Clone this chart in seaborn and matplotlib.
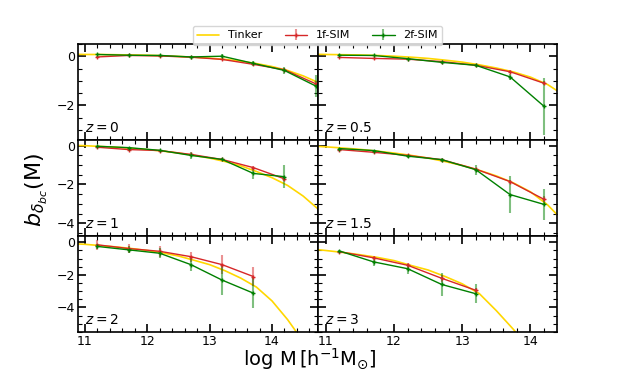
import numpy as np
import seaborn as sns
import matplotlib.pyplot as plt
from matplotlib.ticker import MultipleLocator, AutoMinorLocator

# halo mass bins (log M)
logm = [11.2, 11.7, 12.2, 12.7, 13.2, 13.7, 14.2, 14.7]
redshifts = ['0', '0.5', '1', '1.5', '2', '3']
npts = [8, 7, 7, 7, 6, 5]

# 1f-SIM
b_1f = [
    [-0.03, 0.03, 0.01, -0.04, -0.13, -0.33, -0.55, -1.12],
    [-0.05, -0.09, -0.12, -0.22, -0.37, -0.63, -1.10],
    [-0.08, -0.20, -0.25, -0.45, -0.71, -1.13, -1.71],
    [-0.20, -0.34, -0.50, -0.72, -1.21, -1.85, -2.77],
    [-0.15, -0.38, -0.55, -0.88, -1.37, -2.10],
    [-0.57, -0.95, -1.41, -2.21, -2.95],
]
err_1f = [
    [0.02, 0.02, 0.02, 0.02, 0.03, 0.04, 0.06, 0.10],
    [0.02, 0.02, 0.02, 0.03, 0.03, 0.05, 0.08],
    [0.03, 0.03, 0.03, 0.04, 0.05, 0.08, 0.12],
    [0.03, 0.03, 0.04, 0.05, 0.08, 0.10, 0.15],
    [0.32, 0.30, 0.35, 0.30, 0.57, 0.60],
    [0.05, 0.10, 0.15, 0.20, 0.15],
]
# 2f-SIM
b_2f = [
    [0.07, 0.04, 0.03, -0.03, 0.00, -0.29, -0.58, -1.21],
    [0.04, 0.03, -0.10, -0.25, -0.37, -0.84, -2.04],
    [-0.03, -0.10, -0.24, -0.50, -0.71, -1.43, -1.60],
    [-0.15, -0.25, -0.54, -0.72, -1.24, -2.52, -3.03],
    [-0.25, -0.46, -0.67, -1.37, -2.32, -3.12],
    [-0.53, -1.20, -1.62, -2.59, -3.16],
]
err_2f = [
    [0.03, 0.03, 0.03, 0.03, 0.07, 0.10, 0.15, 0.45],
    [0.03, 0.03, 0.03, 0.05, 0.06, 0.12, 1.15],
    [0.03, 0.03, 0.04, 0.20, 0.05, 0.28, 0.60],
    [0.03, 0.04, 0.08, 0.10, 0.25, 0.95, 0.80],
    [0.15, 0.22, 0.30, 0.40, 0.93, 0.92],
    [0.05, 0.27, 0.30, 0.70, 0.58],
]

# Tinker prediction
tinker_m = [10.8, 11.0, 11.25, 11.5, 11.75, 12.0, 12.25, 12.5, 12.75,
            13.0, 13.25, 13.5, 13.75, 14.0, 14.25, 14.5, 14.75]
tinker_b = [
    [0.08, 0.07, 0.07, 0.06, 0.05, 0.04, 0.02, -0.01, -0.04, -0.08, -0.13, -0.20, -0.30, -0.42, -0.58, -0.80, -1.08],
    [0.08, 0.07, 0.06, 0.05, 0.03, 0.00, -0.04, -0.09, -0.16, -0.24, -0.35, -0.48, -0.64, -0.85, -1.15, -1.60, -2.10],
    [0.02, 0.00, -0.04, -0.08, -0.14, -0.20, -0.28, -0.38, -0.50, -0.64, -0.82, -1.04, -1.33, -1.65, -2.05, -2.60, -3.30],
    [-0.02, -0.06, -0.12, -0.19, -0.28, -0.38, -0.50, -0.64, -0.82, -1.02, -1.27, -1.56, -1.92, -2.38, -3.05, -3.95, -5.00],
    [-0.08, -0.12, -0.20, -0.28, -0.38, -0.50, -0.65, -0.84, -1.10, -1.37, -1.75, -2.20, -2.75, -3.60, -4.75, -6.10, -7.60],
    [-0.42, -0.50, -0.62, -0.76, -0.92, -1.12, -1.42, -1.70, -2.10, -2.55, -3.15, -4.20, -5.35, -6.60, -8.00, -9.50, -11.0],
]

sns.set_style('ticks', {'axes.edgecolor': 'black', 'xtick.color': 'black',
                        'ytick.color': 'black', 'text.color': 'black'})
plt.rcParams['mathtext.fontset'] = 'dejavusans'

fig, axes = plt.subplots(3, 2, figsize=(6.19, 3.72), dpi=100)
fig.subplots_adjust(left=0.126, right=0.9, top=0.882, bottom=0.108, hspace=0, wspace=0)

ylims = [(-3.4, 0.5), (-4.65, 0.3), (-5.5, 0.4)]
xlims = [(10.89, 14.73), (10.88, 14.39)]

for i, ax in enumerate(axes.flat):
    n = npts[i]
    sns.lineplot(x=tinker_m, y=tinker_b[i], color='gold', lw=1.2, ax=ax,
                 label='Tinker' if i == 0 else None, legend=False)
    eb1 = ax.errorbar(logm[:n], b_1f[i], yerr=err_1f[i], color='tab:red', lw=1,
                      elinewidth=1.5, marker='+', ms=3, label='1f-SIM')
    eb2 = ax.errorbar(logm[:n], b_2f[i], yerr=err_2f[i], color='green', lw=1,
                      elinewidth=1.5, marker='+', ms=3, label='2f-SIM')
    for eb in (eb1, eb2):
        eb[2][0].set_alpha(0.5)
    row, col = divmod(i, 2)
    ax.set_xlim(*xlims[col])
    ax.set_ylim(*ylims[row])
    ax.xaxis.set_major_locator(MultipleLocator(1))
    ax.xaxis.set_minor_locator(AutoMinorLocator(5))
    ax.yaxis.set_major_locator(MultipleLocator(2))
    ax.yaxis.set_minor_locator(MultipleLocator(0.5))
    ax.tick_params(which='both', direction='in', top=True, right=True,
                   labelsize=9, pad=2, colors='black')
    ax.tick_params(which='major', length=6, width=1.2)
    ax.tick_params(which='minor', length=3, width=0.8)
    for s in ax.spines.values():
        s.set_linewidth(1.2)
        s.set_color('black')
    if col == 1:
        ax.set_yticklabels([])
    if row < 2:
        ax.set_xticklabels([])
    ax.text(0.03, 0.05, '$z = %s$' % redshifts[i], transform=ax.transAxes,
            fontsize=10, va='bottom', ha='left')

handles, labels = axes[0, 0].get_legend_handles_labels()
fig.legend(handles, labels, loc='upper center', bbox_to_anchor=(0.513, 0.945),
           ncol=3, fontsize=8, frameon=True)

fig.text(0.5, 0.0, r'$\log\,\mathrm{M}\,[\mathrm{h}^{-1}\mathrm{M}_{\odot}]$',
         ha='center', va='bottom', fontsize=14)
fig.text(0.06, 0.49, r'$b_{\delta_{bc}}$(M)', ha='center', va='center',
         rotation=90, fontsize=16)

fig.savefig('out.png', dpi=100)
